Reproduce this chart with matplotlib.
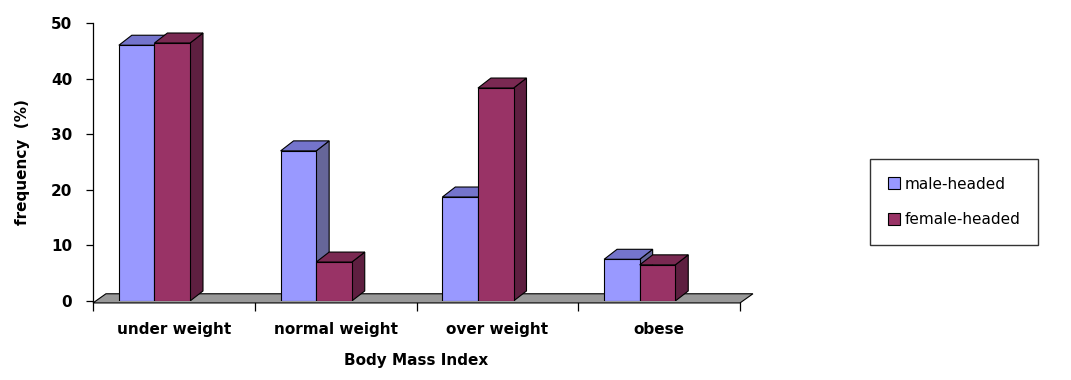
import matplotlib
matplotlib.use("Agg")
import matplotlib.pyplot as plt
from matplotlib.patches import Polygon, Patch
import numpy as np

# Data
categories = ["under weight", "normal weight", "over weight", "obese"]
male_headed = [46, 27, 18.7, 7.5]
female_headed = [46.4, 7, 38.3, 6.5]
series_names = ["male-headed", "female-headed"]

# Colours: front, top, side
MALE = ("#9999FF", "#7474CC", "#666699")
FEMALE = ("#993366", "#7A2952", "#5E1F40")

fig = plt.figure(figsize=(10.71, 3.8), dpi=100)
ax = fig.add_axes([93 / 1071, 1 - 301 / 380, (740 - 93) / 1071, (301 - 23) / 380])

x = np.arange(len(categories))
width = 0.22
dx, dy = 0.08, 1.8  # depth offset in data units


def draw_bar(x0, h, cols):
    front, top, side = cols
    x1 = x0 + width
    # side face
    ax.add_patch(Polygon([(x1, 0), (x1 + dx, dy), (x1 + dx, h + dy), (x1, h)],
                         closed=True, facecolor=side, edgecolor="black",
                         linewidth=0.8, zorder=3))
    # top face
    ax.add_patch(Polygon([(x0, h), (x0 + dx, h + dy), (x1 + dx, h + dy), (x1, h)],
                         closed=True, facecolor=top, edgecolor="black",
                         linewidth=0.8, zorder=3))
    # front face
    ax.bar(x0, h, width=width, align="edge", color=front, edgecolor="black",
           linewidth=0.8, zorder=3)


# floor
ax.add_patch(Polygon([(-0.5, -0.35), (3.5, -0.35), (3.5 + dx, 1.3), (-0.5 + dx, 1.3)],
                     closed=True, facecolor="#999999", edgecolor="black",
                     linewidth=0.8, zorder=2, clip_on=False))

for i in range(len(categories)):
    draw_bar(x[i] - 0.34, male_headed[i], MALE)
    draw_bar(x[i] - 0.12, female_headed[i], FEMALE)

ax.set_xlim(-0.5, 3.5)
ax.set_ylim(0, 50)
ax.set_yticks([0, 10, 20, 30, 40, 50])
for s in ["top", "right", "bottom"]:
    ax.spines[s].set_visible(False)
ax.spines["left"].set_linewidth(0.9)
ax.tick_params(axis="y", direction="out", length=5, width=0.9, pad=10,
               labelsize=11)
for lbl in ax.get_yticklabels():
    lbl.set_fontweight("bold")

ax.set_xticks(x)
ax.set_xticklabels(categories, fontsize=11, fontweight="bold")
ax.tick_params(axis="x", length=0, pad=15)
ax.set_xticks(np.arange(-0.5, 4, 1), minor=True)
ax.tick_params(axis="x", which="minor", direction="out", length=7, width=0.9)

ax.set_ylabel("frequency  (%)", fontsize=11, fontweight="bold", labelpad=15)
ax.set_xlabel("Body Mass Index", fontsize=11, fontweight="bold", labelpad=12)

# legend
handles = [Patch(facecolor=MALE[0], edgecolor="black", linewidth=0.8),
           Patch(facecolor=FEMALE[0], edgecolor="black", linewidth=0.8)]
fig.legend(handles, series_names, loc="upper left",
           bbox_to_anchor=(870 / 1071, 1 - 159 / 380), fontsize=11,
           frameon=True, fancybox=False, edgecolor="black",
           handlelength=0.8, handleheight=0.8, handletextpad=0.3,
           labelspacing=1.35, borderpad=1.15, borderaxespad=0)

fig.savefig("out.png", dpi=100)
